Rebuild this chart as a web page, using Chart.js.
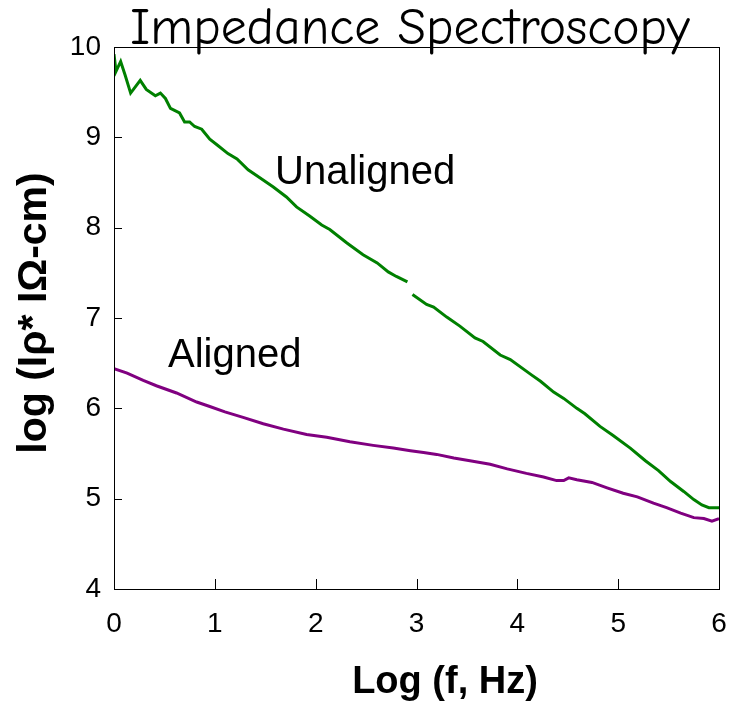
<!DOCTYPE html>
<html>
<head>
<meta charset="utf-8">
<script src="https://cdn.jsdelivr.net/npm/chart.js@4/dist/chart.umd.min.js"></script>
<style>
  html, body { margin: 0; padding: 0; background: #fff; }
  #wrap { width: 731px; height: 704px; }
</style>
</head>
<body>
<div id="wrap"><canvas id="impedance" width="731" height="704"></canvas></div>
<script>
// values (log f, log |rho*|)
var unalignedX = [0, 0.02, 0.066, 0.11, 0.165, 0.26, 0.32, 0.41, 0.46, 0.51, 0.56, 0.65, 0.70, 0.75, 0.80, 0.87, 0.95, 1.03, 1.13, 1.22, 1.33, 1.45, 1.58, 1.71, 1.81, 1.94, 2.06, 2.14, 2.31, 2.47, 2.61, 2.72, 2.80, 2.91, 2.935, 2.96, 3.10, 3.17, 3.30, 3.43, 3.58, 3.66, 3.83, 3.93, 4.14, 4.23, 4.36, 4.46, 4.59, 4.67, 4.82, 4.95, 5.12, 5.27, 5.40, 5.52, 5.65, 5.75, 5.83, 5.90, 6.0];
var unalignedY = [9.92, 9.73, 9.84, 9.69, 9.49, 9.63, 9.53, 9.46, 9.49, 9.43, 9.32, 9.27, 9.17, 9.17, 9.12, 9.09, 8.98, 8.91, 8.82, 8.76, 8.64, 8.55, 8.45, 8.34, 8.23, 8.13, 8.03, 7.98, 7.83, 7.70, 7.61, 7.51, 7.46, 7.40, null, 7.26, 7.15, 7.12, 7.01, 6.91, 6.78, 6.74, 6.59, 6.54, 6.37, 6.30, 6.18, 6.11, 6.00, 5.94, 5.80, 5.70, 5.56, 5.42, 5.31, 5.19, 5.08, 4.99, 4.93, 4.90, 4.90];
var alignedX = [0, 0.13, 0.29, 0.42, 0.62, 0.82, 0.95, 1.10, 1.28, 1.48, 1.68, 1.91, 2.11, 2.34, 2.57, 2.77, 2.94, 3.07, 3.20, 3.37, 3.53, 3.73, 3.90, 4.09, 4.26, 4.39, 4.46, 4.51, 4.59, 4.74, 4.89, 5.05, 5.19, 5.35, 5.48, 5.62, 5.75, 5.85, 5.93, 6.0];
var alignedY = [6.44, 6.39, 6.31, 6.25, 6.17, 6.07, 6.02, 5.96, 5.90, 5.83, 5.77, 5.71, 5.68, 5.63, 5.59, 5.56, 5.53, 5.51, 5.49, 5.45, 5.42, 5.38, 5.33, 5.28, 5.24, 5.20, 5.20, 5.23, 5.21, 5.18, 5.12, 5.06, 5.02, 4.95, 4.90, 4.84, 4.79, 4.78, 4.75, 4.78];
var xTickLabels = ['0', '1', '2', '3', '4', '5', '6'];
var yTickLabels = ['4', '5', '6', '7', '8', '9', '10'];

function toPoints(xs, ys) {
    return xs.map(function(x, i) { return { x: x, y: ys[i] }; });
}

var SANS = '"Liberation Sans", Arial, sans-serif';

// box, inside ticks, titles and curve labels
var decorations = {
    id: 'decorations',
    afterDraw: function(chart) {
        var ctx = chart.ctx, a = chart.chartArea;
        var xs = chart.scales.x, ys = chart.scales.y;
        ctx.save();
        ctx.strokeStyle = '#000';
        ctx.lineWidth = 1;
        ctx.strokeRect(a.left + 0.5, a.top + 0.5, a.right - a.left, a.bottom - a.top);
        ctx.beginPath();
        xs.ticks.forEach(function(t) {
            var px = Math.round(xs.getPixelForValue(t.value)) + 0.5;
            ctx.moveTo(px, a.bottom);
            ctx.lineTo(px, a.bottom - 10);
        });
        ys.ticks.forEach(function(t) {
            var py = Math.round(ys.getPixelForValue(t.value)) + 0.5;
            ctx.moveTo(a.left, py);
            ctx.lineTo(a.left + 8, py);
        });
        ctx.stroke();

        ctx.fillStyle = '#000';
        // main title, Comic-like face squeezed to the reference width
        var size = 40;
        ctx.font = size + 'px "Comic Sans MS", "Comic Neue", "DejaVu Sans", sans-serif';
        var w = ctx.measureText('Impedance Spectroscopy').width;
        size = size * 560 / w;
        ctx.font = size + 'px "Comic Sans MS", "Comic Neue", "DejaVu Sans", sans-serif';
        ctx.textAlign = 'center';
        ctx.textBaseline = 'alphabetic';
        ctx.fillText('Impedance Spectroscopy', 410, 44);

        // axis titles
        ctx.font = 'bold 38px ' + SANS;
        ctx.textBaseline = 'middle';
        ctx.fillText('Log (f, Hz)', 445, 683);
        ctx.save();
        ctx.translate(35, 313);
        ctx.rotate(-Math.PI / 2);
        ctx.font = 'bold 41px ' + SANS;
        ctx.fillText('log (I\u03C1* I\u03A9-cm)', 0, 0);
        ctx.restore();

        // curve labels
        ctx.font = '40px ' + SANS;
        ctx.textAlign = 'left';
        ctx.textBaseline = 'alphabetic';
        ctx.fillText('Unaligned', 275, 184);
        ctx.fillText('Aligned', 168, 367);
        ctx.restore();
    }
};

new Chart(document.getElementById('impedance'), {
    type: 'line',
    data: {
        datasets: [{
            label: 'Unaligned',
            data: toPoints(unalignedX, unalignedY),
            borderColor: '#008000',
            borderWidth: 3,
            pointRadius: 0,
            spanGaps: false,
            tension: 0
        }, {
            label: 'Aligned',
            data: toPoints(alignedX, alignedY),
            borderColor: '#800080',
            borderWidth: 3,
            pointRadius: 0,
            tension: 0
        }]
    },
    options: {
        responsive: false,
        animation: false,
        devicePixelRatio: 1,
        layout: { padding: { top: 47, right: 12, left: 0, bottom: 0 } },
        plugins: {
            legend: { display: false },
            tooltip: { enabled: false }
        },
        scales: {
            x: {
                type: 'linear',
                min: 0,
                max: 6,
                grid: { display: false, drawTicks: false },
                border: { display: false },
                ticks: {
                    stepSize: 1,
                    padding: 18,
                    color: '#000',
                    font: { family: SANS, size: 28 },
                    callback: function(v) { return xTickLabels[Math.round(v)]; }
                },
                afterFit: function(s) {
                    s.height = 115;
                    s.paddingLeft = 0;
                    s.paddingRight = 0;
                }
            },
            y: {
                type: 'linear',
                min: 4,
                max: 10,
                grid: { display: false, drawTicks: false },
                border: { display: false },
                ticks: {
                    stepSize: 1,
                    padding: 13,
                    color: '#000',
                    font: { family: SANS, size: 28 },
                    callback: function(v) { return yTickLabels[Math.round(v) - 4]; }
                },
                afterFit: function(s) {
                    s.width = 114;
                    s.paddingTop = 0;
                    s.paddingBottom = 0;
                }
            }
        }
    },
    plugins: [decorations]
});
</script>
</body>
</html>
